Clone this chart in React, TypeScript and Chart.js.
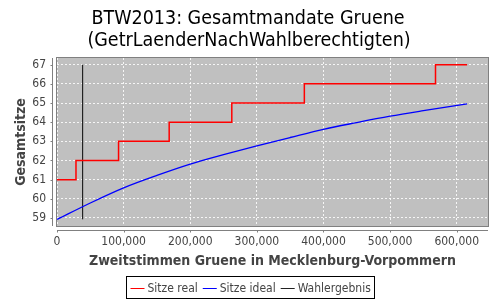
import React, { useEffect, useRef } from "react";
import { Chart, registerables } from "chart.js";

Chart.register(...registerables);

const titleLines = ["BTW2013: Gesamtmandate Gruene", "(GetrLaenderNachWahlberechtigten)"];
const xAxisTitle = "Zweitstimmen Gruene in Mecklenburg-Vorpommern";
const yAxisTitle = "Gesamtsitze";

const realX = [0, 28500, 92400, 168400, 262400, 371300, 568200, 615600];
const realY = [61, 62, 63, 64, 65, 66, 67, 67];

const idealX = [0, 50000, 100000, 150000, 200000, 250000, 300000, 350000, 400000, 450000, 500000, 550000, 615600];
const idealY = [58.92, 59.78, 60.57, 61.22, 61.81, 62.3, 62.76, 63.2, 63.63, 63.98, 64.31, 64.6, 64.96];

const wahlX = [38400, 38400];
const wahlY = [58.93, 67];

const xTicks = [0, 100000, 200000, 300000, 400000, 500000, 600000];
const yTicks = [59, 60, 61, 62, 63, 64, 65, 66, 67];

const legendItems = [
  { label: "Sitze real", color: "#ff0000" },
  { label: "Sitze ideal", color: "#0000ff" },
  { label: "Wahlergebnis", color: "#222222" },
];

const FONT = "'DejaVu Sans Condensed', 'DejaVu Sans', sans-serif";

const decor = {
  id: "decor",
  beforeDraw(chart: any) {
    const { ctx, chartArea: a } = chart;
    ctx.save();
    ctx.fillStyle = "#c0c0c0";
    ctx.fillRect(a.left, a.top, a.right - a.left, a.bottom - a.top);
    ctx.restore();
  },
  afterDraw(chart: any) {
    const { ctx, chartArea: a, scales } = chart;
    ctx.save();
    // plot border
    ctx.strokeStyle = "#808080";
    ctx.lineWidth = 1;
    ctx.strokeRect(Math.round(a.left) - 0.5, Math.round(a.top) - 0.5, Math.round(a.right - a.left) + 1, Math.round(a.bottom - a.top) + 1);
    // offset axis lines
    const axX = Math.round(a.left) - 4.5;
    const axY = Math.round(a.bottom) + 4.5;
    ctx.beginPath();
    ctx.moveTo(axX, a.top);
    ctx.lineTo(axX, a.bottom);
    ctx.moveTo(a.left, axY);
    ctx.lineTo(a.right, axY);
    for (const t of yTicks) {
      const y = Math.round(scales.y.getPixelForValue(t)) + 0.5;
      ctx.moveTo(axX - 2, y);
      ctx.lineTo(axX, y);
    }
    for (const t of xTicks) {
      const x = Math.round(scales.x.getPixelForValue(t)) + 0.5;
      ctx.moveTo(x, axY);
      ctx.lineTo(x, axY + 2);
    }
    ctx.stroke();

    // title
    ctx.fillStyle = "#000";
    ctx.font = `19.5px ${FONT}`;
    ctx.textAlign = "center";
    ctx.textBaseline = "alphabetic";
    ctx.fillText(titleLines[0], 248, 24);
    ctx.fillText(titleLines[1], 249, 46);

    // axis titles
    ctx.fillStyle = "#444";
    ctx.font = `bold 14px ${FONT}`;
    ctx.textBaseline = "middle";
    ctx.fillText(xAxisTitle, (a.left + a.right) / 2, 261);
    ctx.save();
    ctx.translate(21, (a.top + a.bottom) / 2);
    ctx.rotate(-Math.PI / 2);
    ctx.fillText(yAxisTitle, 0, 0);
    ctx.restore();

    // legend
    ctx.font = `12px ${FONT}`;
    ctx.textAlign = "left";
    const lineLen = 14;
    const gap1 = 3;
    const gap2 = 5;
    const widths = legendItems.map((it) => lineLen + gap1 + ctx.measureText(it.label).width);
    const total = widths.reduce((s, w) => s + w, 0) + gap2 * (legendItems.length - 1) + 8;
    const bx = Math.round(250 - total / 2) + 0.5;
    const by = 276.5;
    ctx.strokeStyle = "#000";
    ctx.lineWidth = 1;
    ctx.strokeRect(bx, by, Math.round(total), 22);
    let x = bx + 4;
    const cy = by + 11;
    legendItems.forEach((it, i) => {
      ctx.strokeStyle = it.color;
      ctx.beginPath();
      ctx.moveTo(x, Math.round(cy) + 0.5);
      ctx.lineTo(x + lineLen, Math.round(cy) + 0.5);
      ctx.stroke();
      ctx.fillStyle = "#444";
      ctx.fillText(it.label, x + lineLen + gap1, cy + 1);
      x += widths[i] + gap2;
    });
    ctx.restore();
  },
};

export default function App() {
  const ref = useRef<HTMLCanvasElement>(null);
  useEffect(() => {
    document.body.style.margin = "0";
    const chart = new Chart(ref.current!, {
      type: "line",
      data: {
        datasets: [
          {
            label: "Sitze real",
            data: realX.map((x, i) => ({ x, y: realY[i] })),
            borderColor: "#ff0000",
            borderWidth: 1.5,
            pointRadius: 0,
            stepped: "before",
          },
          {
            label: "Sitze ideal",
            data: idealX.map((x, i) => ({ x, y: idealY[i] })),
            borderColor: "#0000ff",
            borderWidth: 1.3,
            pointRadius: 0,
            cubicInterpolationMode: "monotone",
          },
          {
            label: "Wahlergebnis",
            data: wahlX.map((x, i) => ({ x, y: wahlY[i] })),
            borderColor: "#222222",
            borderWidth: 1.2,
            pointRadius: 0,
          },
        ],
      },
      options: {
        animation: false,
        responsive: false,
        layout: { padding: { top: 58, left: 0, right: 12, bottom: 0 } },
        plugins: { legend: { display: false }, title: { display: false }, tooltip: { enabled: false } },
        scales: {
          x: {
            type: "linear",
            min: 0,
            max: 647000,
            afterBuildTicks: (s: any) => {
              s.ticks = xTicks.map((v) => ({ value: v }));
            },
            afterFit: (s: any) => {
              s.height = 74;
            },
            grid: { color: "rgba(255,255,255,0.85)", drawTicks: false },
            border: { display: false, dash: [2, 2] },
            ticks: {
              padding: 9,
              maxRotation: 0,
              color: "#444",
              font: { family: FONT, size: 12 },
              callback: (v: any) => Number(v).toLocaleString("en-US"),
            },
          },
          y: {
            type: "linear",
            min: 58.58,
            max: 67.35,
            afterBuildTicks: (s: any) => {
              s.ticks = yTicks.map((v) => ({ value: v }));
            },
            afterFit: (s: any) => {
              s.width = 57;
            },
            grid: { color: "rgba(255,255,255,0.85)", drawTicks: false },
            border: { display: false, dash: [2, 2] },
            ticks: {
              padding: 11,
              color: "#444",
              font: { family: FONT, size: 12 },
              callback: (v: any) => String(v),
            },
          },
        },
      },
      plugins: [decor],
    } as any);
    return () => chart.destroy();
  }, []);
  return <canvas ref={ref} width={500} height={300} style={{ display: "block" }} />;
}
